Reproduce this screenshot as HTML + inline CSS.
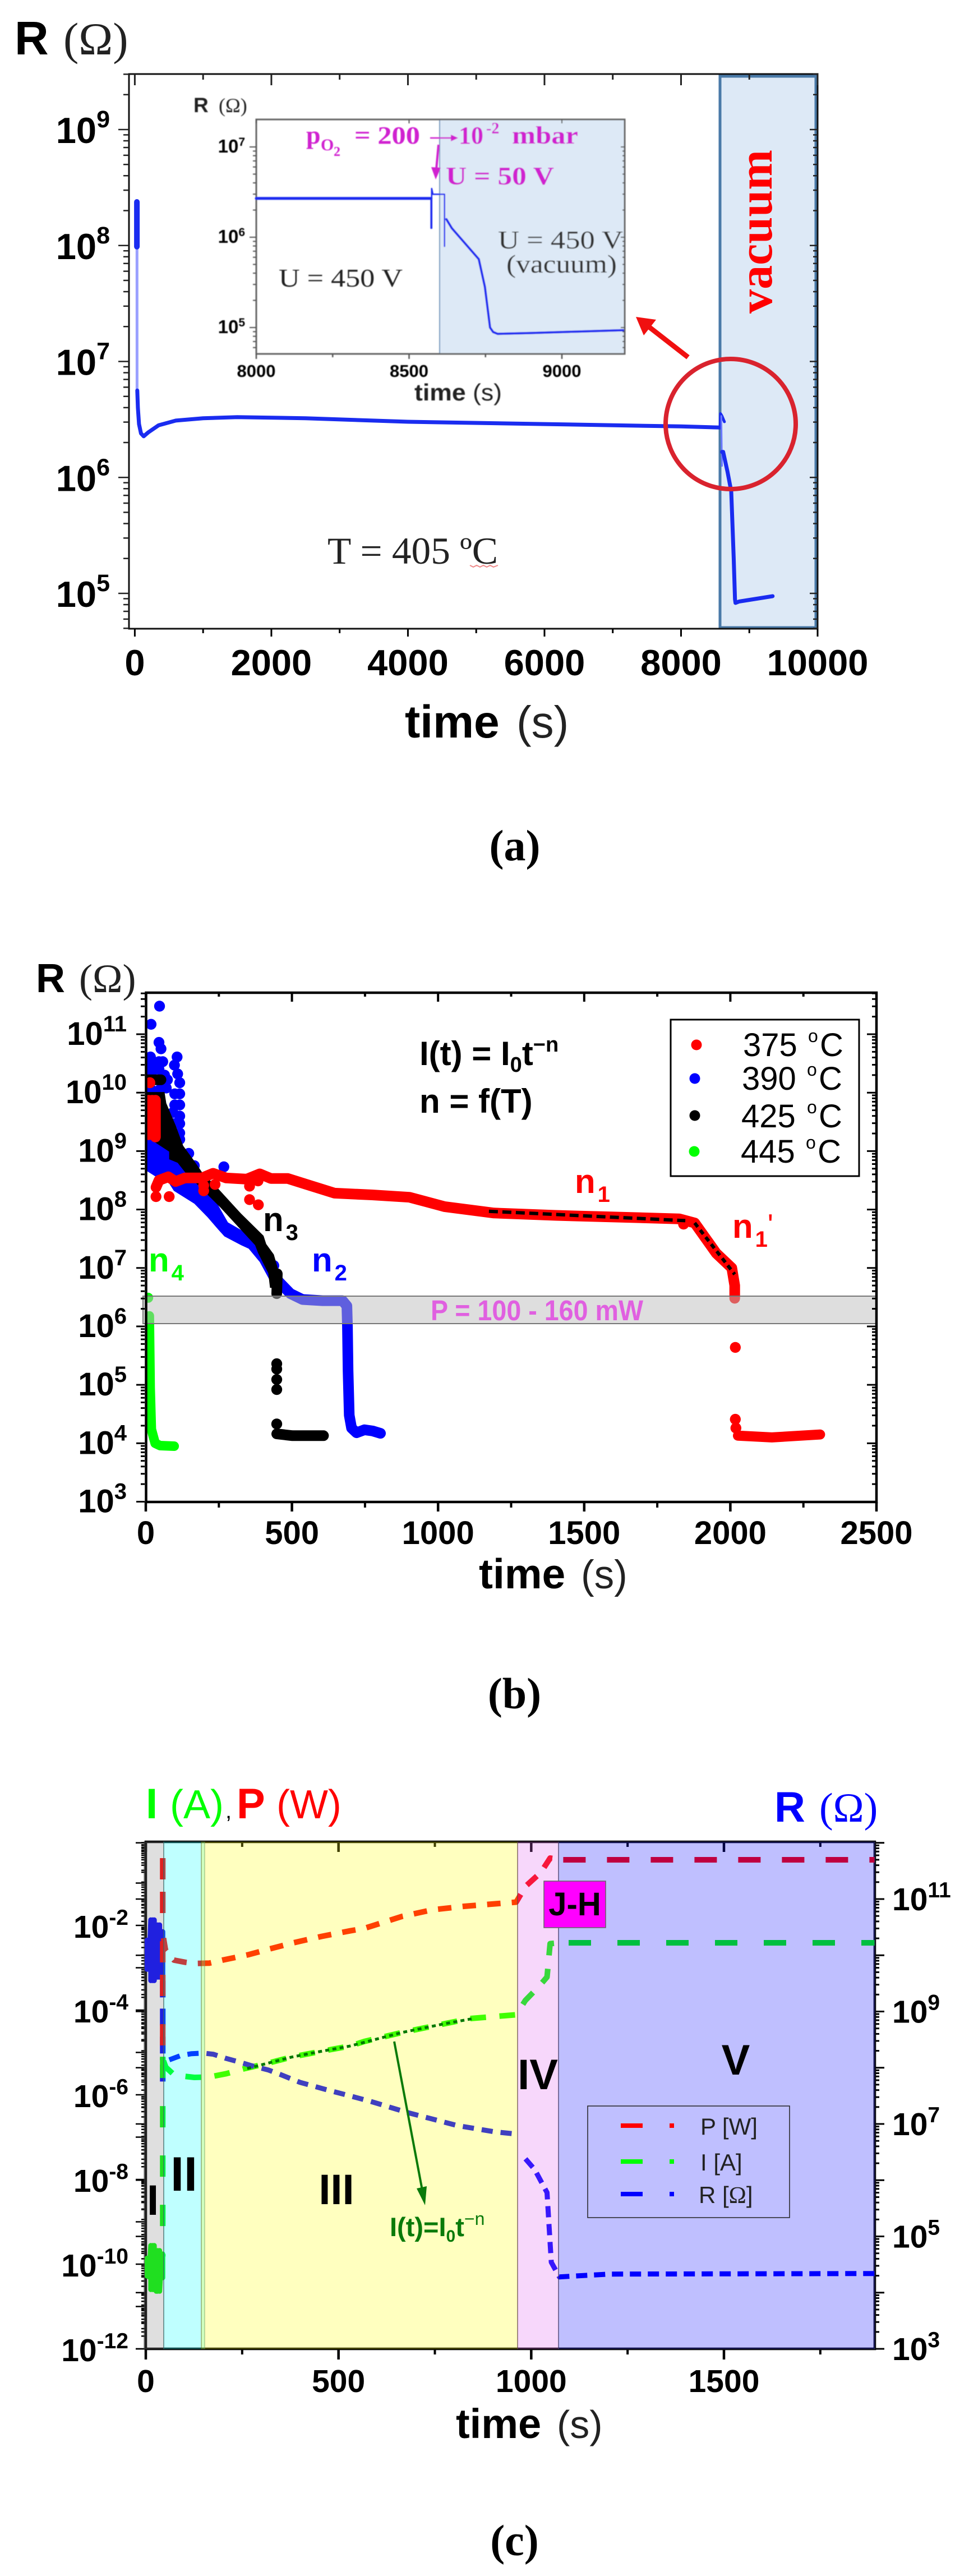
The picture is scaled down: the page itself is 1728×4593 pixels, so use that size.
<!DOCTYPE html>
<html lang="en">
<head>
<meta charset="utf-8">
<title>Resistance versus time panels</title>
<style>
html,body{margin:0;padding:0;background:#fff;}
svg{display:block;}
text{font-family:"Liberation Sans",Arial,sans-serif;}
.serif{font-family:"Liberation Serif","Times New Roman",serif;}
.b{font-weight:700;}
</style>
</head>
<body>
<svg id="figure" xmlns="http://www.w3.org/2000/svg" width="1728" height="4593" viewBox="0 0 1728 4593">
<defs>
<filter id="soft" x="-5%" y="-5%" width="110%" height="110%"><feGaussianBlur stdDeviation="0.7"/></filter>
<clipPath id="clip-b"><rect x="260" y="1770" width="1303" height="908"/></clipPath>
<clipPath id="clip-c"><rect x="258" y="3284" width="1302" height="904"/></clipPath>
</defs>

<!-- PANEL A -->
<g id="panel-a">
  <rect x="1284" y="136" width="171" height="983" fill="#dde9f6" stroke="#4a7aa8" stroke-width="5"/>
  <rect x="230" y="132" width="1228" height="989" fill="none" stroke="#111" stroke-width="3"/>
  <g id="a-ticks"></g>
  <g id="a-series"></g>

  <text x="26" y="97" font-size="84"><tspan font-weight="700">R</tspan><tspan x="113" font-size="82" fill="#222" font-family="Liberation Serif">(Ω)</tspan></text>
  <text x="722" y="1315" font-size="82"><tspan font-weight="700">time</tspan><tspan x="921" font-size="80" fill="#222">(s)</tspan></text>
  <text class="serif" x="584" y="1005" font-size="68" fill="#222" textLength="304" lengthAdjust="spacingAndGlyphs">T = 405 ºC</text>
  <polyline points="838,1008 844,1011 850,1008 856,1011 862,1008 868,1011 874,1008 880,1011 888,1008" fill="none" stroke="#e88" stroke-width="2"/>
  <text class="serif b" transform="translate(1376,559) rotate(-90)" font-size="86" fill="#f00" textLength="292" lengthAdjust="spacingAndGlyphs">vacuum</text>

  <ellipse cx="1303" cy="756" rx="116" ry="116" fill="none" stroke="#d9232e" stroke-width="8"/>
  <line x1="1227" y1="637" x2="1155" y2="581" stroke="#f01010" stroke-width="9"/>
  <polygon points="1134,565 1170,570 1148,598" fill="#f01010"/>

  <g id="a-inset" filter="url(#soft)">
    <rect x="784" y="213" width="330" height="418" fill="#dde9f6" stroke="#7a9cc0" stroke-width="2"/>
    <rect x="457" y="213" width="657" height="418" fill="none" stroke="#666" stroke-width="3"/>
    <g id="inset-ticks"></g>
    <g id="inset-series"></g>
    <text x="345" y="200" font-size="37" fill="#222"><tspan font-weight="700">R</tspan><tspan x="390" font-family="Liberation Serif" font-size="36">(Ω)</tspan></text>
    <text x="739" y="714" font-size="42" fill="#222" textLength="156" lengthAdjust="spacingAndGlyphs"><tspan font-weight="700">time</tspan> (s)</text>
    <g class="serif b" fill="#d020d0">
      <text class="serif b" x="546" y="256" font-size="46">p</text>
      <text class="serif b" x="572" y="268" font-size="30">O</text>
      <text class="serif b" x="595" y="278" font-size="24">2</text>
      <text class="serif b" x="632" y="256" font-size="44" textLength="117" lengthAdjust="spacingAndGlyphs">= 200</text>
      <line x1="767" y1="246" x2="806" y2="246" stroke="#d020d0" stroke-width="2.5"/>
      <polygon points="817,246 804,240 804,252" fill="#d020d0"/>
      <text class="serif b" x="818" y="256" font-size="44">10</text>
      <text class="serif b" x="867" y="238" font-size="28">-2</text>
      <text class="serif b" x="913" y="256" font-size="44" textLength="118" lengthAdjust="spacingAndGlyphs">mbar</text>
    </g>
    <line x1="782" y1="258" x2="778" y2="302" stroke="#d020d0" stroke-width="4"/>
    <polygon points="777,320 769,298 786,299" fill="#d020d0"/>
    <text class="serif b" x="795" y="329" font-size="46" fill="#d020d0" textLength="193" lengthAdjust="spacingAndGlyphs">U = 50 V</text>
    <text class="serif" x="497" y="511" font-size="46" fill="#222" textLength="221" lengthAdjust="spacingAndGlyphs">U = 450 V</text>
    <text class="serif" x="888" y="443" font-size="46" fill="#333" textLength="223" lengthAdjust="spacingAndGlyphs">U = 450 V</text>
    <text class="serif" x="903" y="486" font-size="46" fill="#333" textLength="197" lengthAdjust="spacingAndGlyphs">(vacuum)</text>
  </g>
  <text class="serif b" x="918" y="1534" text-anchor="middle" font-size="78">(a)</text>
</g>

<!-- PANEL B -->
<g id="panel-b">
  <g id="b-series" clip-path="url(#clip-b)"></g>
  <rect x="255" y="2311" width="1308" height="49" fill="rgba(190,190,190,.5)" stroke="#777" stroke-width="2"/>
  <rect x="260.5" y="1770" width="1302.5" height="908" fill="none" stroke="#000" stroke-width="4.5"/>
  <g id="b-ticks"></g>
  <text class="b" x="768" y="2354" font-size="51" font-weight="700" fill="#e060e0" textLength="379" lengthAdjust="spacingAndGlyphs">P = 100 - 160 mW</text>

  <text x="64" y="1769" font-size="72"><tspan font-weight="700">R</tspan><tspan x="141" font-family="Liberation Serif" fill="#222">(Ω)</tspan></text>
  <text x="854" y="2832" font-size="75"><tspan font-weight="700">time</tspan><tspan x="1036" font-size="71" fill="#222">(s)</tspan></text>
  <text x="748" y="1899" font-size="60" font-weight="700">I(t) = I<tspan font-size="38" dy="12">0</tspan><tspan dy="-12">t</tspan><tspan font-size="38" dy="-24">−n</tspan></text>
  <text x="748" y="1984" font-size="60" font-weight="700">n = f(T)</text>

  <g font-weight="700" font-size="60">
    <text x="1025" y="2127" fill="#f00">n<tspan font-size="40" dy="16" dx="4">1</tspan></text>
    <text x="1306" y="2207" fill="#f00">n<tspan font-size="40" dy="16" dx="4">1</tspan><tspan font-size="52" dy="-22" font-weight="400">'</tspan></text>
    <text x="469" y="2195" fill="#000">n<tspan font-size="40" dy="16" dx="4">3</tspan></text>
    <text x="556" y="2267" fill="#00f">n<tspan font-size="40" dy="16" dx="4">2</tspan></text>
    <text x="265" y="2267" fill="#0f0">n<tspan font-size="40" dy="16" dx="4">4</tspan></text>
  </g>

  <g>
    <rect x="1196" y="1818" width="336" height="279" fill="#fff" stroke="#000" stroke-width="3"/>
    <g><circle cx="1242" cy="1863" r="9.5" fill="#f00"/><text x="1325" y="1883" font-size="58">375<tspan x="1441" font-size="32" dy="-25">o</tspan><tspan x="1462" dy="25">C</tspan></text></g>
    <g><circle cx="1239" cy="1923" r="9.5" fill="#00f"/><text x="1323" y="1943" font-size="58">390<tspan x="1439" font-size="32" dy="-25">o</tspan><tspan x="1460" dy="25">C</tspan></text></g>
    <g><circle cx="1239" cy="1989" r="9.5" fill="#000"/><text x="1322" y="2010" font-size="58">425<tspan x="1439" font-size="32" dy="-25">o</tspan><tspan x="1460" dy="25">C</tspan></text></g>
    <g><circle cx="1238" cy="2053" r="9.5" fill="#0f0"/><text x="1321" y="2073" font-size="58">445<tspan x="1437" font-size="32" dy="-25">o</tspan><tspan x="1458" dy="25">C</tspan></text></g>
  </g>
  <text class="serif b" x="917.5" y="3046" text-anchor="middle" font-size="78">(b)</text>
</g>

<!-- PANEL C -->
<g id="panel-c">
  <g id="c-ticks"></g>
  <rect x="260" y="3284" width="1300" height="904" fill="none" stroke="#000" stroke-width="4.5"/>
  <g id="c-series" clip-path="url(#clip-c)"></g>

  <rect x="257" y="3284" width="35" height="904" fill="rgba(128,128,128,.25)" stroke="rgba(60,60,60,.6)" stroke-width="1.5"/>
  <rect x="292" y="3284" width="73" height="904" fill="rgba(0,255,255,.25)" stroke="rgba(60,120,120,.5)" stroke-width="1.5"/>
  <rect x="359" y="3284" width="564" height="904" fill="rgba(255,255,0,.25)" stroke="rgba(90,90,0,.5)" stroke-width="1.5"/>
  <rect x="923" y="3284" width="73" height="904" fill="rgba(224,96,240,.25)" stroke="rgba(90,60,90,.5)" stroke-width="1.5"/>
  <rect x="996" y="3284" width="564" height="904" fill="rgba(0,0,255,.25)" stroke="rgba(60,60,100,.6)" stroke-width="1.5"/>
  <g id="c-fit"></g>

  <line x1="703" y1="3640" x2="753" y2="3905" stroke="#0a7a0a" stroke-width="4"/>
  <polygon points="758,3932 743,3902 761,3898" fill="#0a7a0a"/>
  <text x="695" y="3987" font-size="47" font-weight="700" fill="#0a7a0a">I(t)=I<tspan font-size="30" dy="10">0</tspan><tspan dy="-10">t</tspan><tspan font-size="32" dy="-20" font-weight="400">−n</tspan></text>

  <text x="272.5" y="3949" text-anchor="middle" font-size="76" font-weight="700">I</text>
  <text x="328" y="3906" text-anchor="middle" font-size="86" font-weight="700">II</text>
  <text x="600" y="3930" text-anchor="middle" font-size="76" font-weight="700">III</text>
  <text x="959" y="3725" text-anchor="middle" font-size="76" font-weight="700">IV</text>
  <text x="1312" y="3699" text-anchor="middle" font-size="76" font-weight="700">V</text>

  <rect x="970" y="3354" width="110" height="83" fill="#f0f" stroke="#666" stroke-width="1.5"/>
  <text x="1025" y="3415" text-anchor="middle" font-size="58" font-weight="700">J-H</text>

  <text x="260" y="3242" font-size="76"><tspan font-weight="700" fill="#0f0">I</tspan><tspan x="303" font-size="72" fill="#0f0">(A)</tspan><tspan x="402" font-size="40">,</tspan><tspan x="422" font-weight="700" fill="#f00">P</tspan><tspan x="493" font-size="72" fill="#f00">(W)</tspan></text>
  <text x="1381" y="3248" font-size="76" fill="#00f"><tspan font-weight="700">R</tspan><tspan x="1461" font-family="Liberation Serif" font-size="74">(Ω)</tspan></text>
  <text x="813" y="4347" font-size="74"><tspan font-weight="700">time</tspan><tspan x="993" font-size="70" fill="#222">(s)</tspan></text>

  <g>
    <rect x="1048" y="3755" width="360" height="199" fill="none" stroke="#222" stroke-width="1.5"/>
    <g><line x1="1107" y1="3790" x2="1146" y2="3790" stroke="#f00" stroke-width="8"/><line x1="1194" y1="3790" x2="1202" y2="3790" stroke="#f00" stroke-width="8"/><text x="1249" y="3806" font-size="42" fill="#222">P [W]</text></g>
    <g><line x1="1107" y1="3854" x2="1146" y2="3854" stroke="#0f0" stroke-width="8"/><line x1="1194" y1="3854" x2="1202" y2="3854" stroke="#0f0" stroke-width="8"/><text x="1249" y="3870" font-size="42" fill="#222">I [A]</text></g>
    <g><line x1="1107" y1="3912" x2="1146" y2="3912" stroke="#00f" stroke-width="8"/><line x1="1194" y1="3912" x2="1202" y2="3912" stroke="#00f" stroke-width="8"/><text x="1246" y="3928" font-size="42" fill="#222">R [<tspan font-family="Liberation Serif">Ω</tspan>]</text></g>
  </g>
  <text class="serif b" x="917.5" y="4556" text-anchor="middle" font-size="78">(c)</text>
</g>
</svg>

<script>
// ---- Panel (a) main chart data: time in s, log10 of resistance ----
const aXTicks = [0, 2000, 4000, 6000, 8000, 10000];
const aXMinor = [1000, 3000, 5000, 7000, 9000];
const aYTicks = [5, 6, 7, 8, 9];
const aSpikeT = [30, 30];
const aSpikeLogR = [7.99, 8.376];
const aDropT = [32, 33];
const aDropLogR = [8.0, 6.75];
const aDecayT = [36, 45, 62, 90, 130, 200, 350, 600, 1000, 1500, 2500, 4000, 6000, 8000, 8572];
const aDecayLogR = [6.75, 6.6, 6.46, 6.38, 6.355, 6.39, 6.45, 6.49, 6.51, 6.52, 6.51, 6.48, 6.46, 6.44, 6.43];
const aBumpT = [8572, 8578, 8600, 8635];
const aBumpLogR = [6.43, 6.55, 6.53, 6.48];
const aLinkT = [8590, 8600];
const aLinkLogR = [6.53, 6.1];
const aVacuumT = [8600, 8617, 8680, 8735, 8771, 8790, 8798, 8850, 9341];
const aVacuumLogR = [6.22, 6.22, 6.05, 5.88, 5.305, 4.95, 4.918, 4.93, 4.976];

// ---- Panel (a) inset data ----
const insetXTicks = [8000, 8500, 9000];
const insetXMinor = [8250, 8750];
const insetYTicks = [5, 6, 7];
const insetBaseT = [8000, 8200, 8400, 8572];
const insetBaseLogR = [6.43, 6.43, 6.43, 6.43];
const insetDipT = [8572, 8572, 8574, 8574, 8578, 8616, 8616];
const insetDipLogR = [6.43, 6.1, 6.1, 6.54, 6.476, 6.476, 5.9];
const insetDecayT = [8622, 8640, 8676, 8728, 8748, 8765, 8775, 8790, 8900, 9050, 9200];
const insetDecayLogR = [6.2, 6.1, 5.96, 5.757, 5.45, 5.0, 4.95, 4.93, 4.94, 4.955, 4.97];

// ---- Panel (b) data: time in s, log10 of resistance ----
const bXTicks = [0, 500, 1000, 1500, 2000, 2500];
const bXMinor = [250, 750, 1250, 1750, 2250];
const bYTicks = [3, 4, 5, 6, 7, 8, 9, 10, 11];
const blueDotT = [47, 18, 45, 52, 107, 98, 109, 116, 16, 45, 58, 16, 45, 19, 64, 74, 70, 19, 48, 99, 116, 116, 99, 93, 116, 116, 116, 116, 96, 102, 147, 166, 267, 438, 0, 30, 0];
const blueDotLogR = [11.48, 11.17, 10.86, 10.75, 10.61, 10.47, 10.32, 10.17, 10.61, 10.53, 10.53, 10.43, 10.40, 10.30, 10.30, 10.22, 10.08, 10.05, 10.05, 9.98, 9.98, 9.79, 9.79, 9.66, 9.60, 9.47, 9.31, 9.20, 9.47, 9.28, 8.96, 8.75, 8.73, 7.04, 10.5, 10.5, 10.3];
const blueBlobT = [0, 128, 185, 256, 281, 326, 377, 441, 473, 425, 390, 352, 326, 269, 249, 211, 166, 96, 58, 35, 0];
const blueBlobLogR = [9.21, 9.09, 8.64, 8.0, 7.78, 7.65, 7.42, 7.07, 6.72, 6.78, 7.10, 7.33, 7.39, 7.54, 7.65, 7.87, 8.10, 8.32, 8.62, 8.56, 8.67];
const blueMainT = [440, 454, 495, 536, 605, 673, 688, 690, 692, 696, 704, 721, 748, 776, 803];
const blueMainLogR = [6.9, 6.77, 6.56, 6.46, 6.44, 6.44, 6.35, 6.0, 5.24, 4.48, 4.26, 4.18, 4.23, 4.21, 4.17];
const blackTopT = [5, 52];
const blackTopLogR = [10.22, 10.22];
const blackBlobT = [0, 64, 70, 86, 102, 128, 166, 192, 249, 326, 403, 412, 438, 460, 462, 425, 419, 384, 374, 256, 198, 134, 109, 80, 80, 16, 0];
const blackBlobLogR = [10.01, 10.01, 9.82, 9.63, 9.44, 9.09, 8.83, 8.64, 8.35, 7.93, 7.55, 7.41, 7.23, 6.85, 6.66, 6.66, 6.91, 7.26, 7.39, 8.03, 8.32, 8.64, 8.80, 8.86, 8.99, 9.2, 9.21];
const blackEndT = [450, 448];
const blackEndLogR = [6.9, 6.56];
const blackDotT = [448, 448, 448, 448, 448];
const blackDotLogR = [5.36, 5.27, 5.09, 4.92, 4.33];
const blackTailT = [448, 502, 608];
const blackTailLogR = [4.16, 4.13, 4.13];
const redColAT = [10, 10];
const redColALogR = [9.87, 9.28];
const redColBT = [22, 22];
const redColBLogR = [9.87, 9.28];
const redColCT = [33, 33];
const redColCLogR = [9.87, 9.24];
const redMainT = [35, 45, 77, 102, 134, 192, 230, 275, 345, 390, 428, 486, 550, 646, 774, 902, 1022, 1191, 1403, 1825, 1878, 1952, 2005, 2015, 2015];
const redMainLogR = [8.38, 8.50, 8.56, 8.48, 8.54, 8.54, 8.62, 8.54, 8.52, 8.61, 8.53, 8.53, 8.43, 8.28, 8.25, 8.21, 8.05, 7.94, 7.90, 7.84, 7.77, 7.25, 7.0, 6.70, 6.48];
const redDotT = [14, 35, 80, 198, 198, 237, 355, 355, 385, 384, 1840, 2017, 2017, 2019];
const redDotLogR = [10.17, 8.22, 8.22, 8.32, 8.41, 8.43, 8.40, 8.17, 8.08, 8.49, 7.75, 5.64, 4.41, 4.26];
const redTailT = [2026, 2142, 2307];
const redTailLogR = [4.13, 4.10, 4.15];
const fitFlatT = [1174, 1846];
const fitFlatLogR = [7.97, 7.81];
const fitSteepT = [1878, 2015];
const fitSteepLogR = [7.77, 6.89];
const greenDotT = [8];
const greenDotLogR = [6.49];
const greenMainT = [12, 15, 19, 32, 49, 97];
const greenMainLogR = [6.18, 4.95, 4.24, 4.0, 3.96, 3.95];

// ---- Panel (c) data: time in s, log10 of P, I (left) and R (right) ----
const cXTicks = [0, 500, 1000, 1500];
const cXMinor = [250, 750, 1250, 1750];
const cLeftTicks = [-12, -10, -8, -6, -4, -2];
const cRightTicks = [3, 5, 7, 9, 11];
const cPowerSpikeT = [44, 44];
const cPowerSpikeLog = [-0.41, -5.18];
const cPowerT = [46, 51, 73, 102, 126, 165, 199, 267, 315, 383, 456, 529, 567, 664, 744, 825, 961, 985, 1025, 1049, 1073];
const cPowerLog = [-2.3, -2.58, -2.82, -2.87, -2.90, -2.89, -2.82, -2.69, -2.57, -2.41, -2.26, -2.13, -2.07, -1.79, -1.63, -1.55, -1.45, -1.08, -0.75, -0.41, -0.44];
const cPowerEndT = [1083, 1891];
const cPowerEndLog = [-0.45, -0.45];
const cCurrentSpikeT = [44, 44];
const cCurrentSpikeLog = [-5.1, -9.82];
const cCurrentT = [46, 52, 70, 97, 126, 165, 209, 257, 306, 378, 451, 529, 567, 664, 776, 841, 961, 985, 1017, 1041, 1049, 1073];
const cCurrentLog = [-5.2, -5.35, -5.50, -5.56, -5.59, -5.58, -5.50, -5.38, -5.28, -5.11, -4.98, -4.85, -4.74, -4.53, -4.32, -4.2, -4.11, -3.77, -3.47, -3.22, -2.43, -2.41];
const cCurrentEndT = [1097, 1891];
const cCurrentEndLog = [-2.41, -2.41];
const cCurrentNoiseT = [3, 3, 8, 8, 13, 13, 18, 18, 22, 22, 27, 27, 31, 31, 36, 36, 41, 41, 44, 44];
const cCurrentNoiseLog = [-9.86, -10.28, -9.9, -10.3, -9.56, -10.6, -9.56, -10.6, -9.56, -10.6, -9.68, -10.64, -9.68, -10.64, -9.68, -10.64, -9.76, -10.32, -9.76, -10.32];
const cResistNoiseT = [3, 3, 8, 8, 13, 13, 18, 18, 22, 22, 27, 27, 31, 31, 36, 36, 41, 41, 44, 44];
const cResistNoiseLog = [10.27, 9.75, 10.27, 9.75, 10.63, 9.55, 10.63, 9.55, 10.63, 9.55, 10.54, 9.61, 10.54, 9.61, 10.54, 9.61, 10.42, 9.61, 10.42, 9.61];
const cResistSpikeT = [44, 44];
const cResistSpikeLog = [9.55, 7.74];
const cResistT = [61, 92, 119, 150, 175, 206, 238, 272, 318, 349, 400, 468, 524, 584, 680, 809, 905, 961];
const cResistLog = [8.14, 8.22, 8.25, 8.26, 8.24, 8.17, 8.11, 8.04, 7.96, 7.88, 7.74, 7.61, 7.51, 7.40, 7.20, 6.97, 6.86, 6.82];
const cResistEndT = [985, 1009, 1041, 1052, 1073, 1202, 1891];
const cResistEndLog = [6.38, 6.19, 5.78, 4.54, 4.28, 4.33, 4.34];
const cFitT = [263, 378, 451, 529, 567, 664, 776, 849];
const cFitLog = [-5.38, -5.11, -4.98, -4.85, -4.76, -4.53, -4.32, -4.2];

// ---- Axis functions ----
const linear = (d0, d1, r0, r1) => v => r0 + (v - d0) * (r1 - r0) / (d1 - d0);
const NS = 'http://www.w3.org/2000/svg';
const xA = linear(0, 10000, 240.4, 1458);
const yA = linear(5, 9, 1058, 231);
const xI = linear(8000, 9000, 457, 1002);
const yI = linear(5, 7, 584, 262);
const xB = linear(0, 2500, 260, 1563);
const yB = linear(3, 11, 2677.5, 1844);
const xC = linear(0, 1500, 260, 1291);
const yCL = linear(-12, -2, 4188, 3433);
const yCR = linear(3, 11, 4188, 3386);

function byId(id) { return document.getElementById(id); }

function tick(group, x1, y1, x2, y2, width, color, name) {
  const el = document.createElementNS(NS, 'line');
  el.setAttribute('x1', x1);
  el.setAttribute('y1', y1);
  el.setAttribute('x2', x2);
  el.setAttribute('y2', y2);
  el.setAttribute('stroke', color);
  el.setAttribute('stroke-width', width);
  
  
  group.appendChild(el);
}

function vTicks(group, scale, values, y, len, width, color, name) {
  values.forEach(v => tick(group, scale(v), y, scale(v), y + len, width, color, name));
}

function logTicks(group, scale, lo, hi, x, dir, major, minor, width, color, name) {
  for (let e = Math.floor(lo); e <= Math.ceil(hi); e++) {
    for (let k = 1; k <= 9; k++) {
      const v = e + Math.log10(k);
      if (v < lo - 1e-6 || v > hi + 1e-6) continue;
      const len = k === 1 ? major : minor;
      tick(group, x, scale(v), x + dir * len, scale(v), width, color, name);
    }
  }
}

function label(group, txt, x, y, anchor, size, weight, name) {
  const el = document.createElementNS(NS, 'text');
  el.setAttribute('x', x);
  el.setAttribute('y', y);
  el.setAttribute('text-anchor', anchor);
  el.setAttribute('font-size', size);
  el.setAttribute('font-weight', weight);
  
  
  el.textContent = txt;
  group.appendChild(el);
  return el;
}

function powerLabel(group, exp, x, y, anchor, size, supSize, supRise, name) {
  const el = label(group, '10', x, y, anchor, size, 700, name);
  const sup = document.createElementNS(NS, 'tspan');
  sup.setAttribute('font-size', supSize);
  sup.setAttribute('dy', -supRise);
  sup.textContent = String(exp);
  el.appendChild(sup);
}

function line(group, xs, ys, xScale, yScale, color, width, dash, name) {
  const el = document.createElementNS(NS, 'polyline');
  el.setAttribute('points', xs.map((t, i) => xScale(t).toFixed(1) + ',' + yScale(ys[i]).toFixed(1)).join(' '));
  el.setAttribute('fill', 'none');
  el.setAttribute('stroke', color);
  el.setAttribute('stroke-width', width);
  el.setAttribute('stroke-linejoin', 'round');
  el.setAttribute('stroke-linecap', dash ? 'butt' : 'round');
  if (dash) el.setAttribute('stroke-dasharray', dash);
  
  
  group.appendChild(el);
}

function area(group, xs, ys, xScale, yScale, color, name) {
  const el = document.createElementNS(NS, 'polygon');
  el.setAttribute('points', xs.map((t, i) => xScale(t).toFixed(1) + ',' + yScale(ys[i]).toFixed(1)).join(' '));
  el.setAttribute('fill', color);
  
  
  group.appendChild(el);
}

function dots(group, xs, ys, xScale, yScale, color, r, name) {
  xs.forEach((t, i) => {
    const el = document.createElementNS(NS, 'circle');
    el.setAttribute('cx', xScale(t).toFixed(1));
    el.setAttribute('cy', yScale(ys[i]).toFixed(1));
    el.setAttribute('r', r);
    el.setAttribute('fill', color);
    
    
    group.appendChild(el);
  });
}

// ---- Panel (a) ----
const aT = byId('a-ticks');
const aS = byId('a-series');
vTicks(aT, xA, aXTicks, 1121, 14, 3, '#000', 'x-tick-a');
vTicks(aT, xA, aXMinor, 1121, 8, 3, '#000', 'x-minor-tick-a');
vTicks(aT, xA, aXTicks, 132, 20, 3, '#222', 'top-tick-a');
vTicks(aT, xA, aXMinor, 132, 10, 3, '#222', 'top-minor-tick-a');
logTicks(aT, yA, 4.695, 9.479, 230, -1, 19, 10, 2.5, '#222', 'y-tick-a');
logTicks(aT, yA, 4.695, 9.479, 1458, -1, 14, 8, 2.5, '#222', 'right-tick-a');
aYTicks.forEach(e => powerLabel(aT, e, 196, yA(e) + 24, 'end', 65, 43, 28, 'y-tick-label-a'));
aXTicks.forEach(t => label(aT, String(t), xA(t), 1204, 'middle', 65, 700, 'x-tick-label-a'));
line(aS, aDropT, aDropLogR, xA, yA, '#9aa0ff', 5, null, 'drop-line');
line(aS, aSpikeT, aSpikeLogR, xA, yA, '#1a2cf0', 10, null, 'initial-spike');
line(aS, aDecayT, aDecayLogR, xA, yA, '#1a2cf0', 7, null, 'resistance-plateau');
line(aS, aBumpT, aBumpLogR, xA, yA, '#1a2cf0', 5, null, 'oxygen-step');
line(aS, aLinkT, aLinkLogR, xA, yA, '#6c7aff', 3, null, 'step-link');
line(aS, aVacuumT, aVacuumLogR, xA, yA, '#1a2cf0', 7, null, 'vacuum-drop');

// ---- Inset ----
const iT = byId('inset-ticks');
const iS = byId('inset-series');
vTicks(iT, xI, insetXTicks, 631, 9, 2.5, '#555', 'inset-x-tick');
vTicks(iT, xI, insetXMinor, 631, 6, 2.5, '#555', 'inset-x-minor-tick');
vTicks(iT, xI, insetXTicks, 213, 7, 2, '#555', 'inset-top-tick');
logTicks(iT, yI, 4.7, 7.3, 457, -1, 12, 6, 2, '#555', 'inset-y-tick');
logTicks(iT, yI, 4.7, 7.3, 1114, -1, 7, 4, 2, '#555', 'inset-right-tick');
insetYTicks.forEach(e => powerLabel(iT, e, 437, yI(e) + 10, 'end', 33, 21, 12, 'inset-y-tick-label'));
insetXTicks.forEach(t => label(iT, String(t), xI(t), 672, 'middle', 31, 700, 'inset-x-tick-label'));
line(iS, insetBaseT, insetBaseLogR, xI, yI, '#1a2cf0', 5, null, 'inset-baseline');
line(iS, insetDipT, insetDipLogR, xI, yI, '#1a2cf0', 2.5, null, 'inset-voltage-step');
line(iS, insetDecayT, insetDecayLogR, xI, yI, '#1a2cf0', 4, null, 'inset-vacuum-drop');

// ---- Panel (b) ----
const bT = byId('b-ticks');
const bS = byId('b-series');
vTicks(bT, xB, bXTicks, 2678, 17, 4.5, '#000', 'x-tick-b');
vTicks(bT, xB, bXMinor, 2678, 10, 4, '#000', 'x-minor-tick-b');
vTicks(bT, xB, bXTicks, 1770, 16, 4, '#000', 'top-tick-b');
vTicks(bT, xB, bXMinor, 1770, 7, 4, '#000', 'top-minor-tick-b');
logTicks(bT, yB, 3, 11.71, 258, -1, 15, 7, 3, '#000', 'y-tick-b');
logTicks(bT, yB, 3, 11.71, 1563, -1, 17, 8, 3, '#000', 'right-tick-b');
bYTicks.forEach(e => powerLabel(bT, e, 226, yB(e) + 19, 'end', 58, 40, 24, 'y-tick-label-b'));
bXTicks.forEach(t => label(bT, String(t), xB(t), 2753, 'middle', 58, 700, 'x-tick-label-b'));

dots(bS, blueDotT, blueDotLogR, xB, yB, '#00f', 9.7, 'blue-point');
area(bS, blueBlobT, blueBlobLogR, xB, yB, '#00f', 'blue-band');
line(bS, blueMainT, blueMainLogR, xB, yB, '#00f', 19, null, 'series-390');
line(bS, blackTopT, blackTopLogR, xB, yB, '#000', 19, null, 'black-upper-bar');
area(bS, blackBlobT, blackBlobLogR, xB, yB, '#000', 'series-425');
line(bS, blackEndT, blackEndLogR, xB, yB, '#000', 19, null, 'series-425-end');
dots(bS, blackDotT, blackDotLogR, xB, yB, '#000', 9.7, 'black-point');
line(bS, blackTailT, blackTailLogR, xB, yB, '#000', 19, null, 'black-tail');
line(bS, redColAT, redColALogR, xB, yB, '#f00', 19, null, 'red-cluster-a');
line(bS, redColBT, redColBLogR, xB, yB, '#f00', 19, null, 'red-cluster-b');
line(bS, redColCT, redColCLogR, xB, yB, '#f00', 19, null, 'red-cluster-c');
line(bS, redMainT, redMainLogR, xB, yB, '#f00', 19, null, 'series-375');
dots(bS, redDotT, redDotLogR, xB, yB, '#f00', 9.7, 'red-point');
line(bS, redTailT, redTailLogR, xB, yB, '#f00', 18, null, 'red-tail');
line(bS, fitFlatT, fitFlatLogR, xB, yB, '#000', 6, '16 8', 'fit-n1');
line(bS, fitSteepT, fitSteepLogR, xB, yB, '#000', 6, '9 7', 'fit-n1-prime');
dots(bS, greenDotT, greenDotLogR, xB, yB, '#0f0', 9, 'green-point');
line(bS, greenMainT, greenMainLogR, xB, yB, '#0f0', 17, null, 'series-445');

// ---- Panel (c) ----
const cT = byId('c-ticks');
const cS = byId('c-series');
const cF = byId('c-fit');
vTicks(cT, xC, cXTicks, 4188, 19, 4.5, '#000', 'x-tick-c');
vTicks(cT, xC, cXMinor, 4188, 10, 4, '#000', 'x-minor-tick-c');
vTicks(cT, xC, cXTicks, 3284, 18, 4.5, '#000', 'top-tick-c');
vTicks(cT, xC, cXMinor, 3284, 9, 4, '#000', 'top-minor-tick-c');
logTicks(cT, yCL, -12, -0.03, 260, -1, 18, 8, 2.5, '#000', 'left-tick-c');
logTicks(cT, yCR, 3, 12.02, 260, -1, 18, 8, 2.5, '#000', 'left-overlay-tick-c');
logTicks(cT, yCR, 3, 12.02, 1560, 1, 17, 8, 3, '#000', 'right-tick-c');
cLeftTicks.forEach(e => powerLabel(cT, e, 229, yCL(e) + 22, 'end', 57, 39, 23, 'left-tick-label-c'));
cRightTicks.forEach(e => powerLabel(cT, e, 1591, yCR(e) + 20, 'start', 57, 39, 23, 'right-tick-label-c'));
cXTicks.forEach(t => label(cT, String(t), xC(t), 4265, 'middle', 57, 700, 'x-tick-label-c'));

line(cS, cResistSpikeT, cResistSpikeLog, xC, yCR, '#00f', 10, '30 20', 'resistance-spike');
line(cS, cResistNoiseT, cResistNoiseLog, xC, yCR, '#00f', 9, null, 'resistance-noise');
line(cS, cCurrentNoiseT, cCurrentNoiseLog, xC, yCL, '#0f0', 9, null, 'current-noise');
line(cS, cPowerSpikeT, cPowerSpikeLog, xC, yCL, '#f00', 10, '38 22 38 50', 'power-spike');
line(cS, cCurrentSpikeT, cCurrentSpikeLog, xC, yCL, '#0f0', 10, '38 50', 'current-spike');
line(cS, cPowerT, cPowerLog, xC, yCL, '#f00', 10, '24 20', 'series-power');
line(cS, cPowerEndT, cPowerEndLog, xC, yCL, '#f00', 10, '40 38', 'series-power-end');
line(cS, cCurrentT, cCurrentLog, xC, yCL, '#0f0', 10, '28 24', 'series-current');
line(cS, cCurrentEndT, cCurrentEndLog, xC, yCL, '#0f0', 10, '40 47', 'series-current-end');
line(cS, cResistT, cResistLog, xC, yCR, '#00f', 9, '20 14', 'series-resistance');
line(cS, cResistEndT, cResistEndLog, xC, yCR, '#00f', 9, '20 12', 'series-resistance-end');
line(cF, cFitT, cFitLog, xC, yCL, '#007800', 5, '7 6', 'power-law-fit');
</script>
</body>
</html>
